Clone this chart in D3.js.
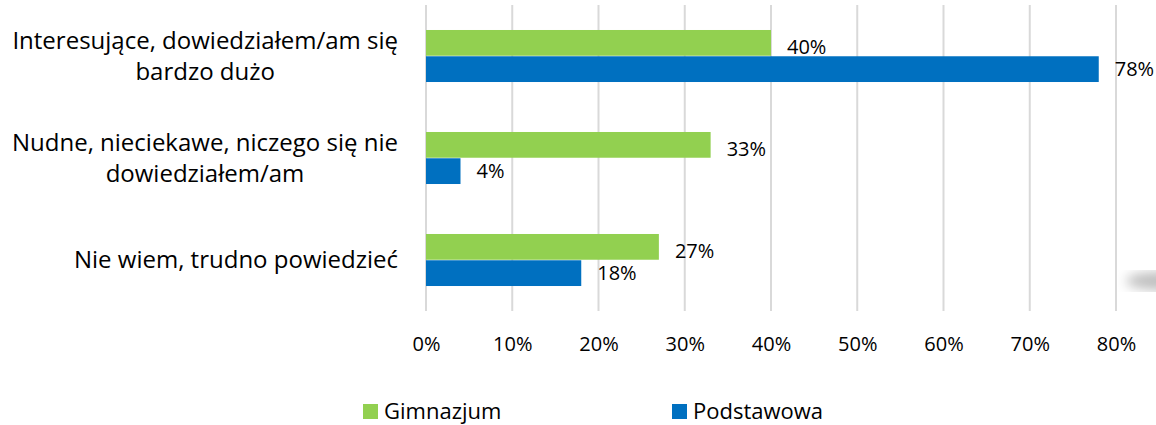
<!DOCTYPE html>
<html>
<head>
<meta charset="utf-8">
<script src="https://cdn.jsdelivr.net/npm/d3@7"></script>
<style>
  body { margin: 0; background: #fff; }
  svg { font-family: "Open Sans", sans-serif; }
</style>
</head>
<body>
<div id="chart"></div>
<script>
var width = 1156
var height = 425

// data
var categories = [
  ["Interesujące, dowiedziałem/am się", "bardzo dużo"],
  ["Nudne, nieciekawe, niczego się nie", "dowiedziałem/am"],
  ["Nie wiem, trudno powiedzieć"]
];
var seriesNames = ["Gimnazjum", "Podstawowa"];
var gimnazjum = [40, 33, 27];
var podstawowa = [78, 4, 18];
var ticks = [0, 10, 20, 30, 40, 50, 60, 70, 80];
var colors = ["#92d050", "#0070c0"];

var plot = { left: 426, right: 1116, top: 5, bottom: 311 };

var svg = d3.select("#chart").append("svg")
    .attr("width", width)
    .attr("height", height);

var x = d3.scaleLinear()
    .domain([0, 80])
    .range([plot.left, plot.right]);

var y = d3.scaleBand()
    .domain(d3.range(categories.length))
    .range([plot.top, plot.bottom])
    .paddingInner(0.49)
    .paddingOuter(0.245);

var sub = d3.scaleBand()
    .domain([0, 1])
    .range([0, y.bandwidth()])
    .paddingInner(0.02);

// gridlines
svg.append("g").selectAll("line")
    .data(ticks)
  .enter().append("line")
    .attr("x1", function(d) { return x(d); })
    .attr("x2", function(d) { return x(d); })
    .attr("y1", plot.top)
    .attr("y2", plot.bottom)
    .attr("stroke", "#d9d9d9")
    .attr("stroke-width", 2);

// tick labels
var xAxis = d3.axisBottom(x)
    .tickValues(ticks)
    .tickSize(0)
    .tickPadding(0)
    .tickFormat(function(d) { return d + "%"; });

var gx = svg.append("g")
    .attr("transform", "translate(0," + 337 + ")")
    .call(xAxis);
gx.select(".domain").remove();
gx.selectAll("text")
    .attr("font-family", "'Open Sans', sans-serif")
    .attr("font-size", 20)
    .attr("fill", "#000");

// bars
var series = [gimnazjum, podstawowa];
series.forEach(function(vals, s) {
  var g = svg.append("g");
  g.selectAll("rect")
      .data(vals)
    .enter().append("rect")
      .attr("x", x(0))
      .attr("y", function(d, i) { return y(i) + sub(s); })
      .attr("width", function(d) { return x(d) - x(0); })
      .attr("height", sub.bandwidth())
      .attr("fill", colors[s]);

  g.selectAll("text")
      .data(vals)
    .enter().append("text")
      .attr("x", function(d) { return x(d) + 16; })
      .attr("y", function(d, i) { return y(i) + sub(s) + sub.bandwidth() / 2 + (s == 0 ? 4 : 0); })
      .attr("dy", "0.35em")
      .attr("font-size", 20)
      .attr("fill", "#000")
      .text(function(d) { return d + "%"; });
});

// category labels (multi-line, centred lines, right aligned block)
var labelRight = 398;
var lineH = 31;
categories.forEach(function(lines, i) {
  var g = svg.append("g");
  var texts = lines.map(function(line) {
    return g.append("text")
        .attr("font-size", 24)
        .attr("fill", "#000")
        .attr("text-anchor", "middle")
        .text(line);
  });
  var maxW = d3.max(texts, function(t) { return t.node().getComputedTextLength(); });
  var cx = labelRight - maxW / 2;
  var cy = y(i) + y.bandwidth() / 2;
  var y0 = cy - (lines.length - 1) * lineH / 2;
  texts.forEach(function(t, k) {
    t.attr("x", cx).attr("y", y0 + k * lineH).attr("dy", "0.35em");
  });
});

// legend
var legendX = [363, 672];
var legend = svg.append("g");
seriesNames.forEach(function(name, i) {
  legend.append("rect")
      .attr("x", legendX[i])
      .attr("y", 404)
      .attr("width", 15)
      .attr("height", 15)
      .attr("fill", colors[i]);
  legend.append("text")
      .attr("x", legendX[i] + 21)
      .attr("y", 419)
      .attr("font-size", 22)
      .attr("fill", "#000")
      .text(name);
});

// soft shadow at the right edge
var defs = svg.append("defs");
defs.append("filter").attr("id", "blur")
    .append("feGaussianBlur").attr("stdDeviation", 6);
svg.append("ellipse")
    .attr("cx", 1162)
    .attr("cy", 281)
    .attr("rx", 36)
    .attr("ry", 9)
    .attr("fill", "#bdbdbd")
    .attr("filter", "url(#blur)");
</script>
</body>
</html>
